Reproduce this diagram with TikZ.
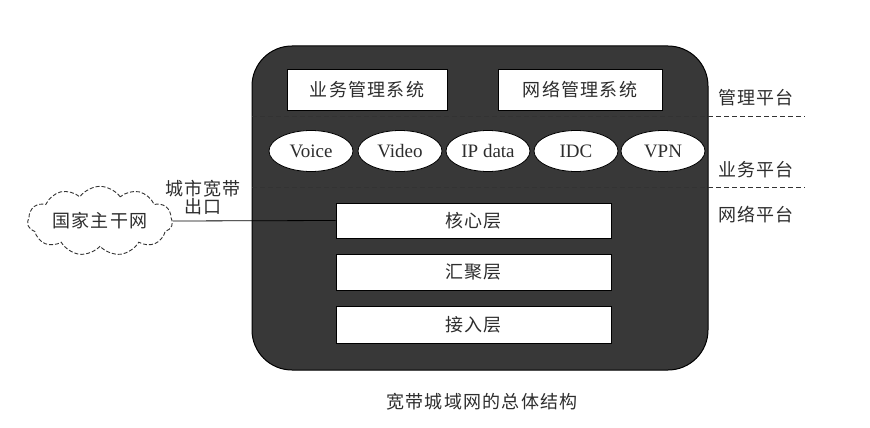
\documentclass[tikz,border=0pt]{standalone}
\usepackage{fontspec}
\setmainfont{Liberation Serif}
\newfontfamily\cjk{Noto Sans CJK SC}[LetterSpace=7]
\usetikzlibrary{shapes.geometric,shapes.symbols}
\definecolor{boxdark}{RGB}{56,56,56}
\definecolor{txt}{RGB}{45,45,45}
\tikzset{
  cn/.style={font=\cjk\fontsize{18}{21}\selectfont, text=txt},
  wbox/.style={draw=black, line width=0.8pt, fill=white, inner sep=0pt},
  svc/.style={draw=black, line width=0.8pt, fill=white, ellipse, inner sep=0pt, minimum width=84pt, minimum height=41pt, font=\fontsize{19}{22}\selectfont, text=txt},
  sep/.style={dashed, dash pattern=on 5pt off 3pt, line width=1pt, draw=black!80},
}
\begin{document}
\begin{tikzpicture}[x={(1pt,0)}, y={(0,-1pt)}]
\useasboundingbox (0,0) rectangle (870,428);
% main platform
\node[draw=black, line width=1pt, fill=boxdark, rounded corners=40pt, minimum width=456pt, minimum height=324pt, inner sep=0pt] (main) at (480,208) {};
% management systems
\node[wbox, minimum width=160pt, minimum height=41pt, cn] (bms) at (367,90) {业务管理系统};
\node[wbox, minimum width=164pt, minimum height=41pt, cn] (nms) at (580,90) {网络管理系统};
% services
\node[svc] (voice) at (311,151) {Voice};
\node[svc] (video) at (400,151) {Video};
\node[svc] (ip) at (488,151) {IP data};
\node[svc] (idc) at (576,151) {IDC};
\node[svc] (vpn) at (663,151) {VPN};
% layers
\node[wbox, minimum width=275pt, minimum height=35pt, cn] (core) at (473.5,220.5) {核心层};
\node[wbox, minimum width=275pt, minimum height=36pt, cn] (agg) at (473.5,272) {汇聚层};
\node[wbox, minimum width=275pt, minimum height=37pt, cn] (acc) at (473.5,324.5) {接入层};
% separators
\coordinate (s1a) at (252,116); \coordinate (s1b) at (805,116);
\coordinate (s2a) at (252,187); \coordinate (s2b) at (805,187);
\draw[sep] (s1a) -- (s1b);
\draw[sep] (s2a) -- (s2b);
% platform labels
\node[cn] (lmgmt) at (756,98) {管理平台};
\node[cn] (lsvc) at (756,170) {业务平台};
\node[cn] (lnet) at (756,215) {网络平台};
% backbone cloud
\node[cloud, cloud puffs=11, cloud puff arc=110, aspect=2.6, draw=black!80, dashed, dash pattern=on 4pt off 2pt, line width=0.9pt, fill=white, minimum width=145pt, minimum height=58pt, inner sep=0pt, cn] (cloud) at (100,221) {国家主干网};
\draw[line width=0.8pt, black] (cloud.east) -- (core.west);
\node[cn, align=center, inner sep=0pt] (exit) at (203,198) {城市宽带\\[-3pt]出口};
% caption
\node[cn] (cap) at (482,402) {宽带城域网的总体结构};
\end{tikzpicture}
\end{document}
